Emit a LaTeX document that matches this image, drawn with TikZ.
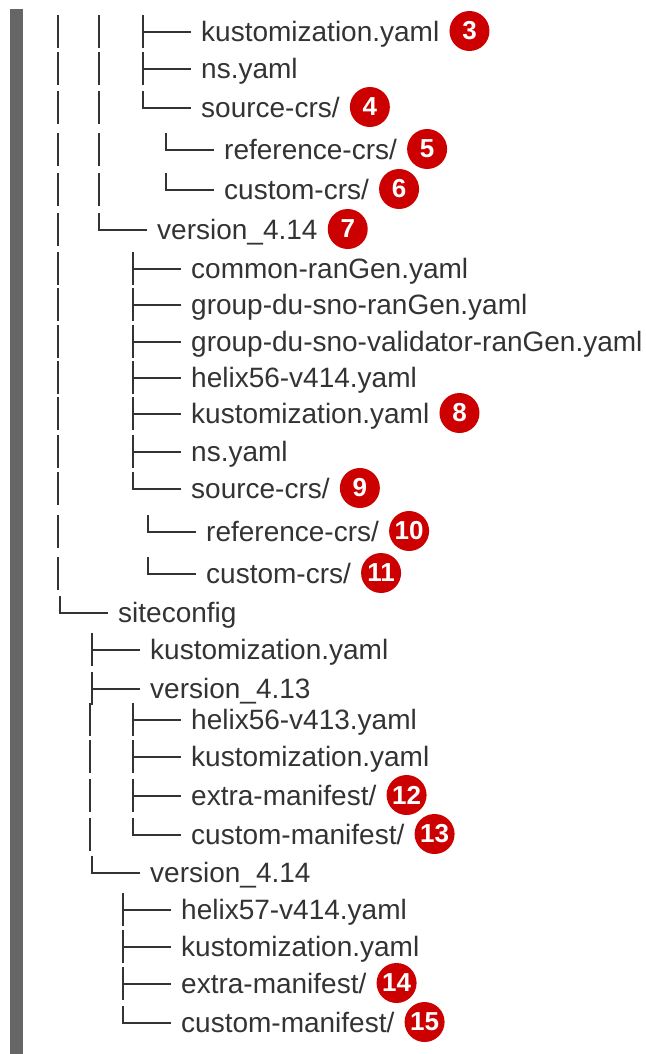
\documentclass[tikz,border=0pt]{standalone}
\usepackage{fontspec}
\setmainfont{Liberation Sans}
\definecolor{txt}{HTML}{333333}
\definecolor{calred}{HTML}{CC0000}
\definecolor{barg}{HTML}{666666}
\tikzset{
  treeline/.style={draw=txt, line width=2bp, line join=miter},
  entry/.style={anchor=base west, inner sep=0pt, text=txt, font=\fontsize{28bp}{32bp}\selectfont},
  callout/.style={circle, fill=calred, text=white, minimum size=40bp, inner sep=0pt, font=\fontsize{26bp}{28bp}\selectfont\bfseries},
}
\newcommand\vbar[2]{\draw[treeline] (#1,#2-17) -- (#1,#2+16);}
\newcommand\teeb[2]{\draw[treeline] (#1,#2-17) -- (#1,#2+16) (#1,#2) -- (#1+48,#2);}
\newcommand\cornb[2]{\draw[treeline] (#1,#2-17) -- (#1,#2) -- (#1+48,#2);}
\newcommand\entryat[4]{\node[entry] (#1) at (#2+58,#3+9.5) {#4};}
\newcommand\calloutat[3]{\path (#1.base east) ++(30,-10.5) node[callout] (#2) {#3};}
\begin{document}
\begin{tikzpicture}[x=1bp,y=-1bp]
\useasboundingbox (0,0) rectangle (646,1054);
\fill[barg] (10,9) rectangle (22.5,1054);
% level 1-2 ancestors
\foreach \yy in {32,69,108,150,190} {\vbar{58}{\yy}\vbar{99}{\yy}}
\teeb{143}{32}  \entryat{t1}{143}{32}{kustomization.yaml} \calloutat{t1}{c3}{3}
\teeb{143}{69}  \entryat{t2}{143}{69}{ns.yaml}
\cornb{143}{108} \entryat{t3}{143}{108}{source-crs/} \calloutat{t3}{c4}{4}
\cornb{166}{150} \entryat{t4}{166}{150}{reference-crs/} \calloutat{t4}{c5}{5}
\cornb{166}{190} \entryat{t5}{166}{190}{custom-crs/} \calloutat{t5}{c6}{6}
\vbar{58}{230}
\cornb{99}{230} \entryat{t6}{99}{230}{version\_4.14} \calloutat{t6}{c7}{7}
\foreach \yy in {269,305,342,378,414,452,489,532,574} {\vbar{58}{\yy}}
\teeb{133}{269} \entryat{t7}{133}{269}{common-ranGen.yaml}
\teeb{133}{305} \entryat{t8}{133}{305}{group-du-sno-ranGen.yaml}
\teeb{133}{342} \entryat{t9}{133}{342}{group-du-sno-validator-ranGen.yaml}
\teeb{133}{378} \entryat{t10}{133}{378}{helix56-v414.yaml}
\teeb{133}{414} \entryat{t11}{133}{414}{kustomization.yaml} \calloutat{t11}{c8}{8}
\teeb{133}{452} \entryat{t12}{133}{452}{ns.yaml}
\cornb{133}{489} \entryat{t13}{133}{489}{source-crs/} \calloutat{t13}{c9}{9}
\cornb{148}{532} \entryat{t14}{148}{532}{reference-crs/} \calloutat{t14}{c10}{10}
\cornb{148}{574} \entryat{t15}{148}{574}{custom-crs/} \calloutat{t15}{c11}{11}
\cornb{60}{613} \entryat{t16}{60}{613}{siteconfig}
\teeb{92}{650} \entryat{t17}{92}{650}{kustomization.yaml}
\teeb{92}{689} \entryat{t18}{92}{689}{version\_4.13}
\foreach \yy in {720,757,796,835} {\vbar{90}{\yy}}
\teeb{133}{720} \entryat{t19}{133}{720}{helix56-v413.yaml}
\teeb{133}{757} \entryat{t20}{133}{757}{kustomization.yaml}
\teeb{133}{796} \entryat{t21}{133}{796}{extra-manifest/} \calloutat{t21}{c12}{12}
\cornb{133}{835} \entryat{t22}{133}{835}{custom-manifest/} \calloutat{t22}{c13}{13}
\cornb{92}{873} \entryat{t23}{92}{873}{version\_4.14}
\teeb{123}{910} \entryat{t24}{123}{910}{helix57-v414.yaml}
\teeb{123}{947} \entryat{t25}{123}{947}{kustomization.yaml}
\teeb{123}{984} \entryat{t26}{123}{984}{extra-manifest/} \calloutat{t26}{c14}{14}
\cornb{123}{1023} \entryat{t27}{123}{1023}{custom-manifest/} \calloutat{t27}{c15}{15}
\end{tikzpicture}
\end{document}
